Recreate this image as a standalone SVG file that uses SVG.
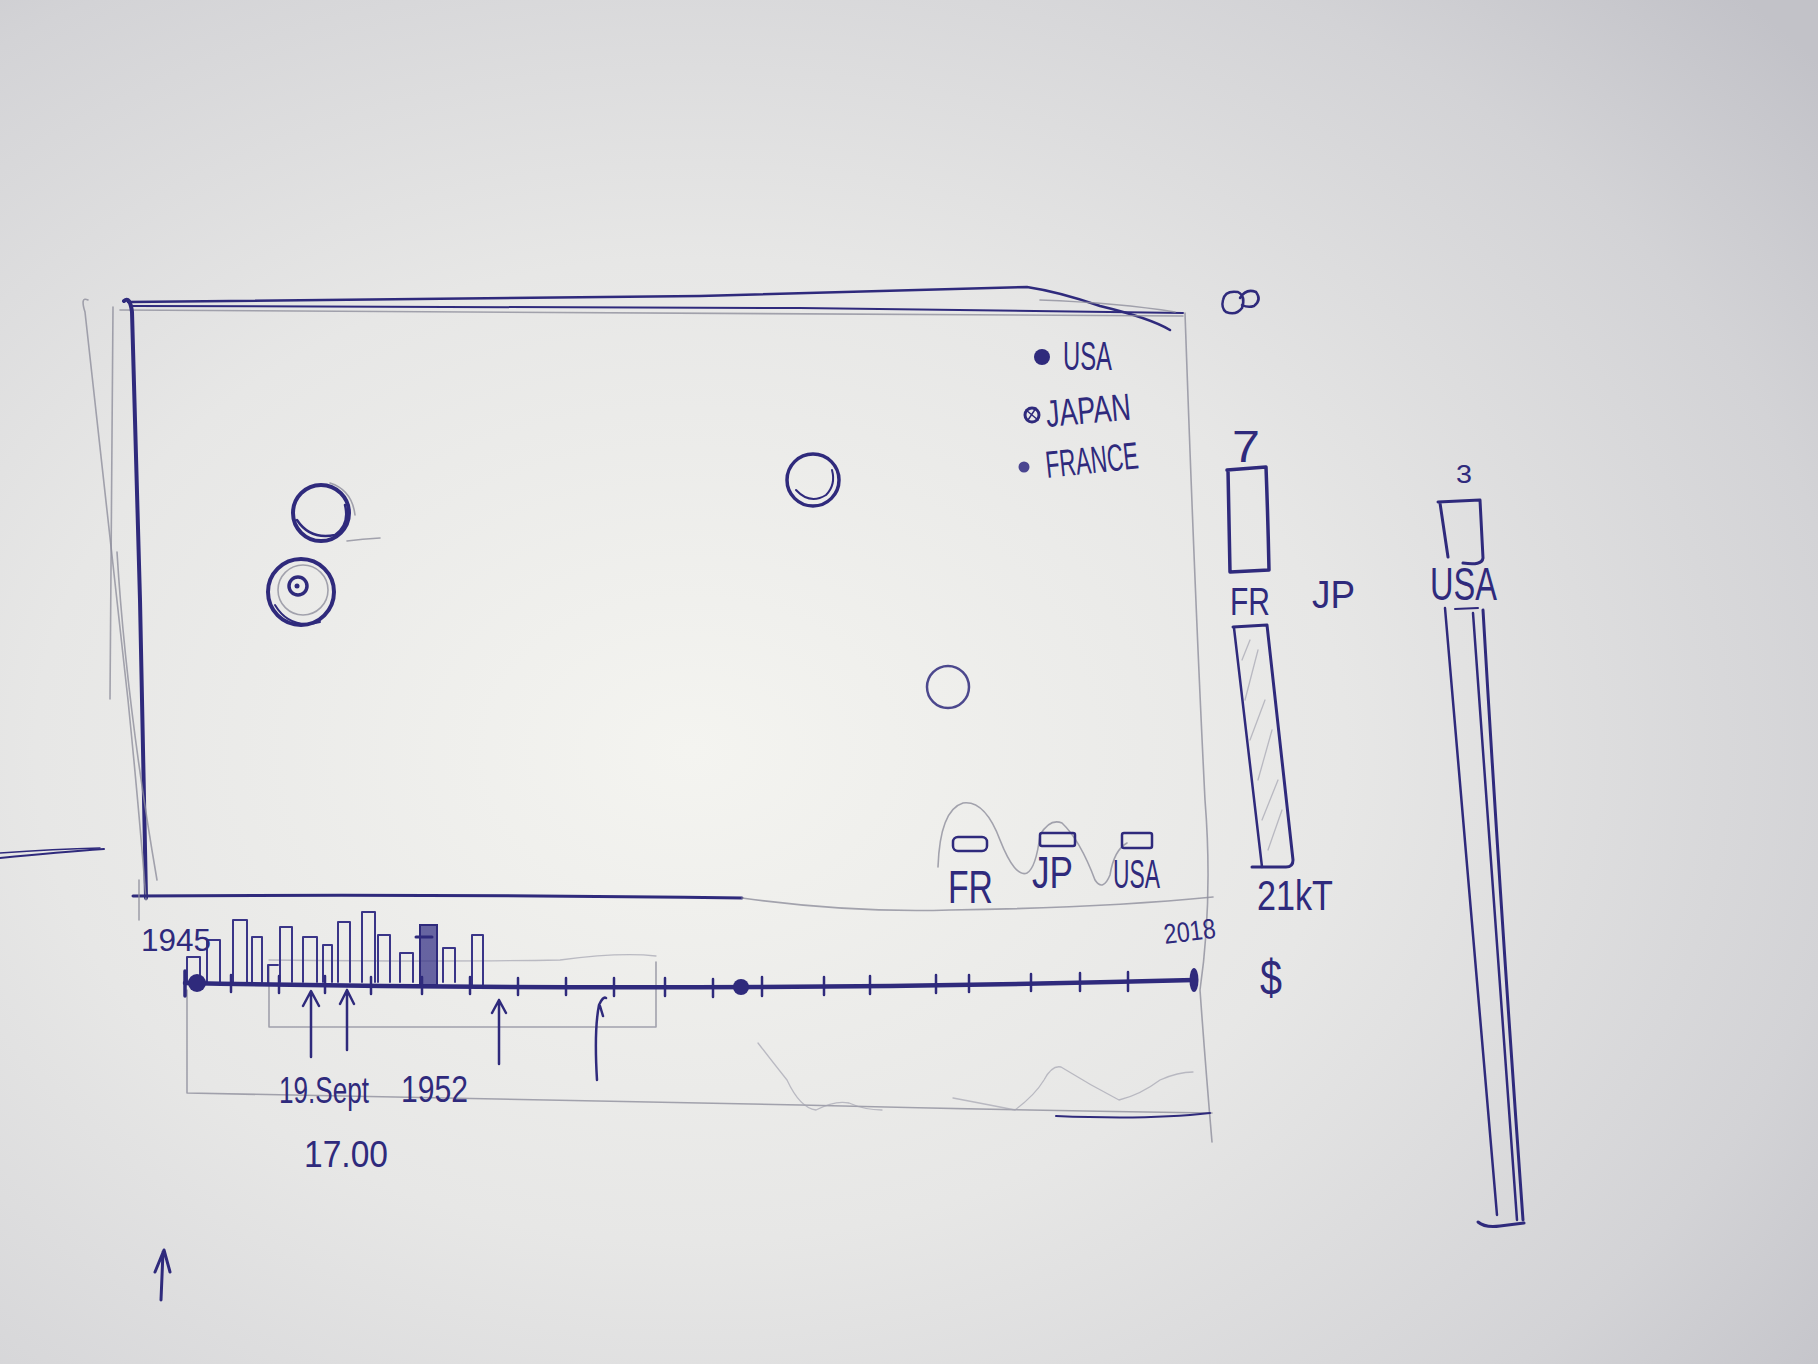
<svg xmlns="http://www.w3.org/2000/svg" width="1818" height="1364" viewBox="0 0 1818 1364">
<defs>
<radialGradient id="paper" cx="0.38" cy="0.55" r="0.8">
<stop offset="0" stop-color="#f4f4f0"/>
<stop offset="0.45" stop-color="#e7e7e6"/>
<stop offset="0.8" stop-color="#d3d3d6"/>
<stop offset="1" stop-color="#c2c2c8"/>
</radialGradient>
<style>
.ink{fill:none;stroke:#2f2a7c;stroke-linecap:round;stroke-linejoin:round}
.pen{fill:none;stroke:#3a3588;stroke-width:2;stroke-linecap:round;stroke-linejoin:round}
.pencil{fill:none;stroke:#8e8e9c;stroke-width:1.6;stroke-linecap:round;stroke-linejoin:round;opacity:.8}
.faint{fill:none;stroke:#a4a4b0;stroke-width:1.3;stroke-linecap:round;opacity:.7}
.t{font-family:"Liberation Sans","DejaVu Sans",sans-serif;fill:#2f2a7c}
</style>
</defs>
<rect width="1818" height="1364" fill="url(#paper)"/>

<g id="frame">
<path class="ink" stroke-width="2.5" d="M128 302 Q400 298 700 296 Q900 291 1027 287 Q1060 292 1100 306 Q1150 318 1170 330"/>
<path class="ink" stroke-width="2" d="M133 306 Q500 308 800 308 Q1000 310 1183 313"/>
<path class="pencil" d="M120 310 Q600 312 1183 316"/>
<path class="pencil" d="M1040 300 Q1120 303 1175 312"/>
<path class="ink" stroke-width="4" d="M124 301 Q130 296 132 312 Q136 450 140 600 Q143 780 146 898"/>
<path class="pencil" d="M88 300 Q80 296 85 312 Q108 520 128 700 Q140 820 146 900"/>
<path class="pencil" d="M113 307 Q111 500 110 699"/>
<path class="pencil" d="M117 552 Q126 700 157 880"/>
<path class="ink" stroke-width="2" d="M0 858 Q60 852 104 849"/>
<path class="ink" stroke-width="1.5" d="M0 853 Q55 849 100 848"/>
<path class="ink" stroke-width="3" d="M133 896 Q450 894 742 898"/>
<path class="pencil" d="M742 898 Q850 913 950 910 Q1100 908 1213 897"/>
<path class="pencil" d="M139 880 V920"/>
<path class="pencil" d="M1185 313 Q1195 600 1205 800 Q1213 900 1200 990 Q1205 1060 1212 1142"/>
</g>

<g id="bubbles">
<circle class="ink" stroke-width="4" cx="321" cy="513" r="28"/>
<path class="ink" stroke-width="2.5" d="M297 520 Q310 540 335 535 Q350 525 345 505"/>
<path class="pencil" d="M330 483 Q352 490 355 515"/>
<circle class="ink" stroke-width="4" cx="301" cy="592" r="33"/>
<path class="ink" stroke-width="2" d="M275 605 Q290 630 320 622"/>
<circle class="pencil" cx="303" cy="590" r="25"/>
<circle class="ink" stroke-width="3.5" cx="298" cy="586" r="9"/>
<circle fill="#2f2a7c" cx="297" cy="586" r="2.5"/>
<path class="pencil" d="M347 541 Q362 539 380 538"/>
<circle class="ink" stroke-width="3.5" cx="813" cy="480" r="26"/>
<path class="ink" stroke-width="2" d="M796 490 Q810 505 826 495 Q836 485 832 470"/>
<circle class="ink" stroke-width="2.5" cx="948" cy="687" r="21" opacity=".85"/>
</g>

<g id="legend">
<circle fill="#2f2a7c" cx="1042" cy="357" r="8"/>
<text class="t" x="1063" y="370" font-size="40" textLength="49" lengthAdjust="spacingAndGlyphs">USA</text>
<circle class="ink" stroke-width="3" cx="1032" cy="415" r="7"/>
<path class="ink" stroke-width="1.5" d="M1026 410 L1038 420 M1028 420 L1036 408"/>
<text class="t" x="1047" y="427" font-size="38" textLength="85" lengthAdjust="spacingAndGlyphs" transform="rotate(-5 1047 427)">JAPAN</text>
<circle fill="#4a4590" cx="1024" cy="467" r="5.5"/>
<text class="t" x="1047" y="478" font-size="38" textLength="93" lengthAdjust="spacingAndGlyphs" transform="rotate(-6 1047 478)">FRANCE</text>
</g>

<g id="mini-chart">
<path class="pencil" d="M938 867 Q940 810 963 803 Q985 800 1000 840 Q1015 878 1027 873 Q1036 868 1040 835 Q1050 818 1062 823 Q1080 840 1095 880 Q1103 892 1110 875 Q1114 850 1127 843"/>
<rect class="ink" stroke-width="2.5" x="953" y="837" width="34" height="14" rx="5"/>
<rect class="ink" stroke-width="2.5" x="1040" y="833" width="35" height="13" rx="2"/>
<rect class="ink" stroke-width="2.5" x="1122" y="833" width="30" height="15" rx="2"/>
<text class="t" x="948" y="903" font-size="46" textLength="45" lengthAdjust="spacingAndGlyphs">FR</text>
<text class="t" x="1032" y="888" font-size="44" textLength="41" lengthAdjust="spacingAndGlyphs">JP</text>
<text class="t" x="1113" y="888" font-size="40" textLength="47" lengthAdjust="spacingAndGlyphs">USA</text>
</g>

<g id="side-bars">
<path class="ink" stroke-width="2.5" d="M1223 300 Q1225 290 1238 292 Q1246 296 1242 308 Q1236 316 1226 312 Q1221 308 1223 300 Z M1240 298 Q1246 288 1256 292 Q1262 300 1254 306 Q1248 308 1242 305"/>
<text class="t" x="1232" y="462" font-size="44" textLength="28" lengthAdjust="spacingAndGlyphs">7</text>
<path class="ink" stroke-width="3.5" d="M1227 470 L1266 467 Q1268 520 1269 570 L1230 572 L1228 470"/>
<text class="t" x="1230" y="615" font-size="38" textLength="40" lengthAdjust="spacingAndGlyphs">FR</text>
<text class="t" x="1312" y="608" font-size="38" textLength="43" lengthAdjust="spacingAndGlyphs">JP</text>
<path class="ink" stroke-width="3" d="M1233 627 L1267 625 L1293 860 Q1293 867 1286 867 L1252 867"/>
<path class="ink" stroke-width="2.5" d="M1234 628 L1262 867"/>
<path class="faint" d="M1242 660 L1250 640 M1245 700 L1258 650 M1250 740 L1265 700 M1258 780 L1272 730 M1262 820 L1278 780 M1268 850 L1282 810"/>
<text class="t" x="1257" y="910" font-size="42" textLength="76" lengthAdjust="spacingAndGlyphs">21kT</text>
<text class="t" x="1260" y="995" font-size="50" textLength="22" lengthAdjust="spacingAndGlyphs">$</text>
<text class="t" x="1456" y="483" font-size="26" textLength="16" lengthAdjust="spacingAndGlyphs">3</text>
<path class="ink" stroke-width="3" d="M1440 503 L1448 557 M1438 502 L1480 500 L1483 558 Q1482 566 1463 563"/>
<text class="t" x="1430" y="600" font-size="46" textLength="67" lengthAdjust="spacingAndGlyphs">USA</text>
<path class="ink" stroke-width="2.5" d="M1445 608 Q1470 900 1497 1215"/>
<path class="ink" stroke-width="2.5" d="M1473 613 Q1494 900 1517 1220"/>
<path class="ink" stroke-width="3" d="M1483 610 Q1500 900 1523 1220"/>
<path class="ink" stroke-width="2" d="M1455 609 L1478 608"/>
<path class="ink" stroke-width="3" d="M1478 1222 Q1485 1228 1500 1226 L1524 1223"/>
</g>

<g id="timeline">
<path class="pencil" d="M187 990 V1093 Q500 1100 800 1105 Q1000 1110 1212 1113"/>
<path class="ink" stroke-width="2" d="M1056 1116 Q1150 1120 1210 1113"/>
<path class="pencil" d="M269 965 V1027 H656 V962"/>
<path class="faint" d="M269 960 Q450 962 560 960 Q620 952 656 956"/>
<path class="faint" d="M758 1043 Q775 1065 787 1080 Q800 1108 816 1110 Q835 1100 849 1103 Q865 1110 882 1110"/>
<path class="faint" d="M953 1098 Q990 1105 1015 1110 Q1035 1095 1044 1080 Q1052 1065 1061 1067 Q1090 1085 1119 1100 Q1140 1095 1160 1080 Q1178 1072 1193 1072"/>
<path class="pen" d="M187 982 V957 H200 V982 M207 982 V940 H220 V982 M233 982 V920 H247 V982 M252 982 V937 H262 V982 M268 985 V965 H278 M280 982 V927 H292 V982 M303 982 V937 H317 V982 M323 982 V945 H332 V982 M338 982 V922 H350 V982 M362 982 V912 H375 V982 M378 982 V935 H390 V982 M400 982 V953 H413 V982 M443 982 V948 H455 V982 M472 985 V935 H483 V985"/>
<path fill="#3a3588" fill-opacity=".75" stroke="#2f2a7c" stroke-width="2" d="M420 985 V925 H437 V985 Z"/>
<path class="ink" stroke-width="3" d="M416 937 H432"/>
<path class="ink" stroke-width="4.5" d="M185 983 Q700 993 1194 980"/>
<path class="ink" stroke-width="3.5" d="M185 971 V996"/>
<circle fill="#2f2a7c" cx="197" cy="983" r="9"/>
<circle fill="#2f2a7c" cx="741" cy="987" r="8"/>
<ellipse fill="#2f2a7c" cx="1194" cy="980" rx="4.5" ry="12"/>
<path class="ink" stroke-width="2.5" d="M231 975V992 M279 976V993 M325 976V993 M371 977V994 M422 977V994 M470 977V994 M518 978V995 M566 978V995 M614 978V996 M665 978V996 M713 979V997 M762 977V996 M824 977V995 M870 976V994 M936 975V993 M969 975V992 M1031 974V991 M1080 973V991 M1128 972V991"/>
<path class="ink" stroke-width="2.5" d="M311 1057 V992 M303 1006 L311 991 L319 1006"/>
<path class="ink" stroke-width="2.5" d="M347 1050 V990 M340 1004 L347 990 L354 1004"/>
<path class="ink" stroke-width="2.5" d="M499 1064 V1000 M492 1013 L499 1000 L506 1013"/>
<path class="ink" stroke-width="2.5" d="M597 1080 Q594 1030 599 1005 Q603 996 606 998 M600 1006 L603 1016"/>
<text class="t" x="141" y="951" font-size="32" textLength="70" lengthAdjust="spacingAndGlyphs">1945</text>
<text class="t" x="1165" y="944" font-size="28" textLength="52" lengthAdjust="spacingAndGlyphs" transform="rotate(-7 1165 944)">2018</text>
<text class="t" x="279" y="1103" font-size="36" textLength="90" lengthAdjust="spacingAndGlyphs">19.Sept</text>
<text class="t" x="401" y="1102" font-size="36" textLength="67" lengthAdjust="spacingAndGlyphs">1952</text>
<text class="t" x="304" y="1167" font-size="36" textLength="84" lengthAdjust="spacingAndGlyphs">17.00</text>
</g>

<g id="corner-arrow">
<path class="ink" stroke-width="3" d="M161 1300 L163 1252 M155 1272 L164 1250 L170 1272"/>
</g>
</svg>
